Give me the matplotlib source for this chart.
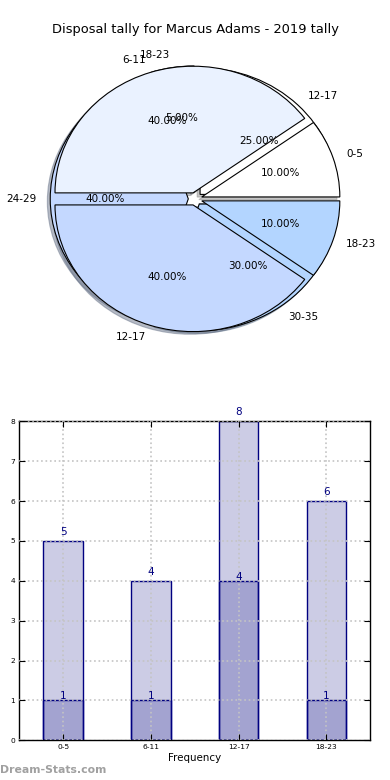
import matplotlib
matplotlib.use("Agg")
import matplotlib.pyplot as plt
import numpy as np

title = "Disposal tally for Marcus Adams - 2019 tally"

# pie drawn underneath
back_labels = ["12-17", "18-23", "24-29", "30-35"]
back_values = [25, 5, 40, 30]
# pie drawn on top
front_labels = ["0-5", "6-11", "12-17", "18-23"]
front_values = [10, 40, 40, 10]
pie_colors = ["#ffffff", "#eaf2ff", "#c4d8ff", "#b3d5ff"]

# bar chart
categories = ["0-5", "6-11", "12-17", "18-23"]
totals = [5, 4, 8, 6]
highlighted = [1, 1, 4, 1]

fig = plt.figure(figsize=(3.9, 7.8), dpi=100)
fig.patch.set_facecolor("white")

fig.text(0.5, 1 - 30 / 780, title, ha="center", va="center", fontsize=9.4)

# ---- pie ----
ax1 = fig.add_axes([0.058, 0.542, 0.885, 0.406])
wp = {"edgecolor": "black", "linewidth": 0.8}
tp = {"fontsize": 7.5}
shadow = {"ox": -0.015, "oy": -0.015, "shade": 0.45}
for labels, values in ((back_labels, back_values), (front_labels, front_values)):
    ax1.pie(values, labels=labels, colors=pie_colors, autopct="%.2f%%",
            explode=[0.05] * len(values), shadow=shadow, startangle=0,
            counterclock=True, wedgeprops=wp, textprops=tp)
ax1.set_aspect("auto")
ax1.set_xlim(-1.25, 1.25)
ax1.set_ylim(-1.25, 1.25)
ax1.axis("off")

# ---- bars ----
ax2 = fig.add_axes([0.0496, 0.0509, 0.8995, 0.409])
x = np.arange(len(categories))
w = 0.45
fc = (0, 0, 0.5, 0.2)
ax2.bar(x, totals, w, color=fc, edgecolor="navy", linewidth=1)
ax2.bar(x, highlighted, w, color=fc, edgecolor="navy", linewidth=1)
for xi, v in zip(x, totals):
    ax2.text(xi, v + 0.1, str(v), ha="center", va="bottom", color="navy", fontsize=7.5)
for xi, v in zip(x, highlighted):
    ax2.text(xi, v - 0.02, str(v), ha="center", va="bottom", color="navy", fontsize=7.5)

ax2.set_xlim(-0.5, 3.5)
ax2.set_ylim(0, 8)
ax2.set_xticks(x)
ax2.set_xticklabels(categories)
ax2.set_yticks(range(0, 9))
ax2.tick_params(direction="in", top=True, right=True, length=4, width=0.8,
                labelsize=5.4, pad=3)
ax2.set_xlabel("Frequency", fontsize=7.4, labelpad=2)
ax2.grid(True, color="#c4c4c4", linestyle=":", linewidth=1.2)
ax2.set_axisbelow(False)
for s in ax2.spines.values():
    s.set_linewidth(1)

fig.text(0.0, 1 - 770 / 780, "Dream-Stats.com", ha="left", va="center",
         fontsize=7.8, fontweight="bold", color="#a0a0a0")

fig.savefig("out.png", dpi=100)
